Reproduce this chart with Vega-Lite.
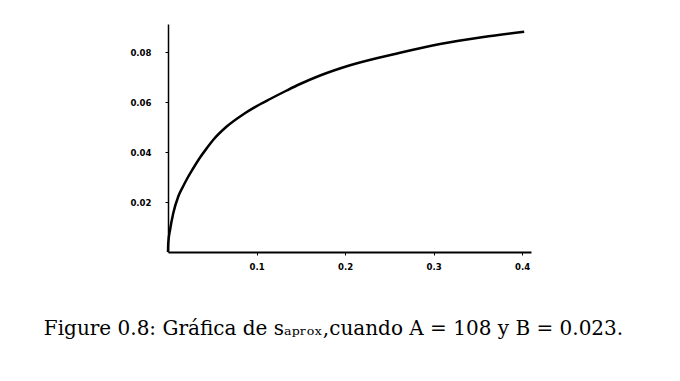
{
  "$schema": "https://vega.github.io/schema/vega-lite/v6.json",
  "autosize": {"type": "none"},
  "padding": {"left": 168, "top": 24, "right": 149, "bottom": 129},
  "width": 363,
  "height": 228,
  "background": "white",
  "config": {"view": {"stroke": null}},
  "title": {
    "text": "Figure 0.8: Gráfica de sₐₚᵣₒₓ,cuando A = 108 y B = 0.023.",
    "orient": "bottom",
    "anchor": "middle",
    "dx": -16,
    "offset": 48,
    "font": "DejaVu Serif",
    "fontSize": 20,
    "fontWeight": "normal",
    "color": "black"
  },
  "data": {"values": [
    {"x": 0.0, "y": 0.0},
    {"x": 0.0003, "y": 0.0036},
    {"x": 0.0023, "y": 0.0088},
    {"x": 0.006, "y": 0.0156},
    {"x": 0.0116, "y": 0.0222},
    {"x": 0.0173, "y": 0.0264},
    {"x": 0.0211, "y": 0.029},
    {"x": 0.028, "y": 0.0332},
    {"x": 0.0362, "y": 0.0378},
    {"x": 0.044, "y": 0.0416},
    {"x": 0.0512, "y": 0.0449},
    {"x": 0.0663, "y": 0.0502},
    {"x": 0.0851, "y": 0.0551},
    {"x": 0.104, "y": 0.0591},
    {"x": 0.1153, "y": 0.0612},
    {"x": 0.1341, "y": 0.0646},
    {"x": 0.1492, "y": 0.0672},
    {"x": 0.1718, "y": 0.0706},
    {"x": 0.2056, "y": 0.0747},
    {"x": 0.2621, "y": 0.0797},
    {"x": 0.3073, "y": 0.0832},
    {"x": 0.3563, "y": 0.086},
    {"x": 0.4023, "y": 0.0881}
  ]},
  "mark": {"type": "line", "color": "black", "strokeWidth": 2.5, "interpolate": "monotone"},
  "encoding": {
    "x": {
      "field": "x", "type": "quantitative",
      "scale": {"domain": [0, 0.41], "nice": false, "zero": false},
      "axis": {
        "title": null, "values": [0.1, 0.2, 0.3, 0.4], "format": ".1f",
        "grid": false, "domainColor": "black", "domainWidth": 2,
        "tickColor": "black", "tickSize": 3, "labelFont": "DejaVu Sans Condensed",
        "labelFontSize": 9.5, "labelFontWeight": "bold", "labelColor": "black", "labelPadding": 6
      }
    },
    "y": {
      "field": "y", "type": "quantitative",
      "scale": {"domain": [0, 0.0912], "nice": false, "zero": false},
      "axis": {
        "title": null, "values": [0.02, 0.04, 0.06, 0.08], "format": ".2f",
        "grid": false, "domainColor": "black", "domainWidth": 1.5,
        "tickColor": "black", "tickSize": 3, "labelFont": "DejaVu Sans Condensed",
        "labelFontSize": 9.5, "labelFontWeight": "bold", "labelColor": "black", "labelPadding": 14
      }
    }
  }
}
